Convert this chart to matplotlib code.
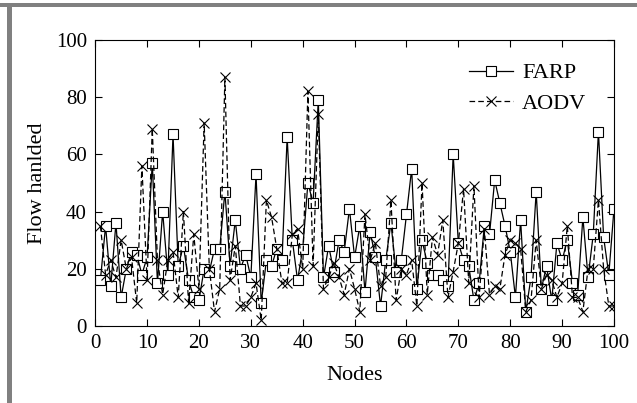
import matplotlib
matplotlib.use("Agg")
import matplotlib.pyplot as plt
from matplotlib.patches import Rectangle

nodes = list(range(1, 101))
farp = [16, 35, 14, 36, 10, 20, 26, 25, 18, 24,
        57, 15, 40, 18, 67, 21, 28, 16, 10, 9,
        20, 19, 27, 27, 47, 21, 37, 20, 25, 17,
        53, 8, 23, 21, 27, 23, 66, 30, 16, 27,
        50, 43, 79, 17, 28, 19, 30, 26, 41, 24,
        35, 12, 33, 24, 7, 23, 36, 19, 23, 39,
        55, 13, 30, 22, 18, 18, 16, 14, 60, 29,
        23, 21, 9, 15, 35, 32, 51, 43, 35, 26,
        10, 37, 5, 17, 47, 13, 21, 9, 29, 23,
        30, 15, 11, 38, 17, 32, 68, 31, 18, 41]
aodv = [35, 18, 23, 17, 30, 20, 24, 8, 56, 16,
        69, 23, 11, 23, 26, 10, 40, 8, 32, 13,
        71, 20, 5, 13, 87, 16, 28, 7, 7, 10,
        15, 2, 44, 38, 27, 15, 15, 32, 34, 20,
        82, 21, 74, 13, 17, 22, 17, 11, 20, 13,
        5, 39, 23, 29, 14, 17, 44, 9, 20, 18,
        23, 7, 50, 11, 31, 25, 37, 10, 19, 29,
        48, 15, 49, 10, 34, 11, 14, 13, 25, 30,
        29, 27, 5, 9, 30, 13, 18, 16, 10, 15,
        35, 10, 10, 5, 20, 20, 44, 20, 7, 7]
series_names = ["FARP", "AODV"]
x_ticks = [0, 10, 20, 30, 40, 50, 60, 70, 80, 90, 100]
y_ticks = [0, 20, 40, 60, 80, 100]

plt.rcParams['font.family'] = ['Liberation Serif', 'DejaVu Serif']
fig = plt.figure(figsize=(6.37, 4.03), dpi=100)
ax = fig.add_axes([95.2/637, 1-326/403, (614-95.2)/637, (326-40)/403])

ax.plot(nodes, farp, color='black', linewidth=0.9, linestyle='-',
        marker='s', markersize=6.5, markerfacecolor='white',
        markeredgecolor='black', markeredgewidth=0.8, label=series_names[0])
ax.plot(nodes, aodv, color='black', linewidth=0.9, linestyle=(0, (4.5, 2.5)),
        marker='x', markersize=6.5, markeredgewidth=0.8,
        label=series_names[1])

ax.set_xlim(0, 100)
ax.set_ylim(0, 100)
ax.set_xticks(x_ticks)
ax.set_yticks(y_ticks)
ax.tick_params(direction='in', top=True, right=True, labelsize=15, length=5,
               width=0.8, pad=6)
for s in ax.spines.values():
    s.set_linewidth(0.8)
ax.set_xlabel("Nodes", fontsize=16, labelpad=9)
ax.set_ylabel("Flow hanlded", fontsize=16, labelpad=6)

leg = ax.legend(loc='upper right', bbox_to_anchor=(0.985, 0.99), frameon=False,
                fontsize=16, handlelength=2.0, handletextpad=0.4,
                labelspacing=0.45)

# gray frame around the figure
fig.add_artist(Rectangle((0, 1-7/403), 1, 4/403, transform=fig.transFigure,
                         color='#808080', lw=0))
fig.add_artist(Rectangle((7/637, 0), 5/637, 1-7/403, transform=fig.transFigure,
                         color='#808080', lw=0))

fig.savefig("out.png", dpi=100)
